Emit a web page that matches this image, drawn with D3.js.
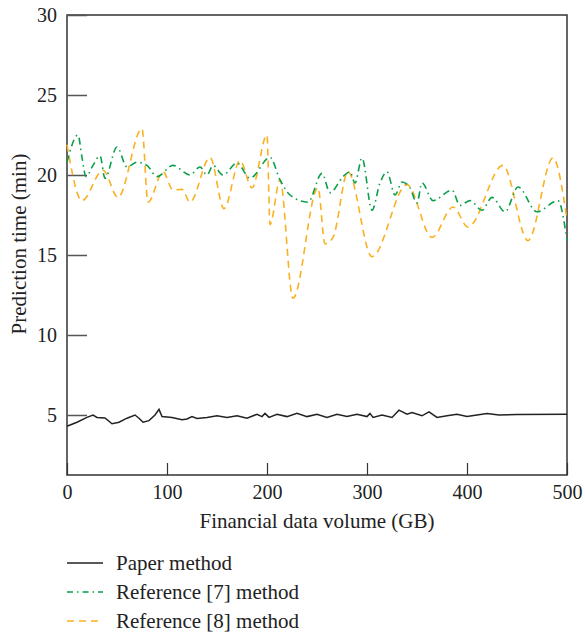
<!DOCTYPE html>
<html>
<head>
<meta charset="utf-8">
<script src="https://cdn.jsdelivr.net/npm/d3@7"></script>
<style>
  body { margin: 0; background: #fff; }
  svg text { font-family: "Liberation Serif", "Times New Roman", serif !important; fill: #222; }
</style>
</head>
<body>
<div id="chart"></div>
<script>
// Data (GB, minutes)
const paperX = [0, 10, 20, 26, 30, 38, 45, 52, 60, 68, 72, 76, 82, 88, 92, 95, 105, 115, 120, 125, 130, 140, 150, 160, 170, 180, 190, 195, 198, 202, 210, 220, 230, 240, 250, 260, 270, 280, 290, 300, 303, 306, 315, 325, 332, 340, 345, 355, 362, 370, 380, 390, 400, 410, 420, 432, 450, 500];
const paperY = [4.3, 4.55, 4.85, 5.0, 4.85, 4.82, 4.45, 4.55, 4.8, 5.0, 4.8, 4.55, 4.65, 5.0, 5.35, 4.9, 4.85, 4.7, 4.75, 4.9, 4.78, 4.85, 4.95, 4.85, 4.95, 4.8, 5.05, 4.9, 5.1, 4.85, 5.05, 4.9, 5.1, 4.9, 5.05, 4.85, 5.05, 4.9, 5.05, 4.9, 5.1, 4.85, 5.0, 4.85, 5.3, 5.05, 5.15, 4.95, 5.2, 4.85, 4.95, 5.05, 4.9, 5.0, 5.1, 5.0, 5.03, 5.05];

const ref7X = [0, 11, 15, 19, 26, 33, 38, 50, 60, 70, 80, 90, 106, 123, 133, 140, 146, 156, 170, 183, 203, 213, 223, 241, 255, 263, 276, 283, 288, 295, 305, 313, 320, 328, 335, 343, 350, 355, 366, 385, 393, 403, 415, 425, 438, 451, 470, 491, 500];
const ref7Y = [20.8, 22.5, 21.1, 19.9, 20.6, 21.2, 19.8, 21.75, 20.5, 20.8, 20.6, 19.9, 20.6, 20.0, 20.5, 20.0, 20.6, 20.0, 20.75, 19.8, 21.1, 19.7, 18.75, 18.3, 20.1, 18.9, 19.9, 20.2, 19.5, 21.06, 17.8, 19.5, 20.2, 18.75, 19.56, 19.2, 18.25, 19.5, 18.4, 19.06, 18.1, 18.4, 17.8, 18.6, 17.7, 19.25, 17.7, 18.4, 15.9];

const ref8X = [0, 15, 36, 51, 75, 81, 96, 106, 115, 123, 143, 157, 173, 185, 200, 203, 213, 226, 251, 258, 266, 281, 305, 340, 365, 386, 401, 436, 461, 486, 500];
const ref8Y = [21.9, 18.4, 20.3, 18.6, 22.9, 18.3, 20.2, 19.06, 19.1, 18.3, 21.1, 17.9, 20.9, 19.2, 22.5, 16.9, 19.7, 12.3, 19.2, 15.7, 16.1, 20.2, 14.9, 19.4, 16.1, 18.0, 16.75, 20.6, 15.9, 21.06, 17.2];

const xTicks = [0, 100, 200, 300, 400, 500];
const yTicks = [5, 10, 15, 20, 25, 30];
const seriesNames = ["Paper method", "Reference [7] method", "Reference [8] method"];
const seriesColors = ["#222222", "#0a9f4a", "#f9b122"];

const W = 585, H = 635;
const margin = { left: 67, top: 15 };
const iw = 500, ih = 460;

const svg = d3.select("#chart").append("svg")
  .attr("width", W).attr("height", H);

const g = svg.append("g").attr("transform", `translate(${margin.left},${margin.top})`);

const x = d3.scaleLinear().domain([0, 500]).range([0, iw]);
const y = d3.scaleLinear().domain([1.25, 30]).range([ih, 0]);

// frame
g.append("rect").attr("width", iw).attr("height", ih)
  .attr("fill", "none").attr("stroke", "#333").attr("stroke-width", 1.5);

// ticks point inward
const yAxis = g.append("g").call(d3.axisLeft(y).tickValues(yTicks).tickSize(-20).tickPadding(10));
yAxis.select(".domain").remove();
yAxis.selectAll(".tick line").attr("stroke", "#555").attr("stroke-width", 1.5);
yAxis.selectAll(".tick text").attr("font-size", 20).attr("fill", "#222");

const xAxis = g.append("g").attr("transform", `translate(0,${ih})`)
  .call(d3.axisBottom(x).tickValues(xTicks).tickSize(-12).tickPadding(10));
xAxis.select(".domain").remove();
xAxis.selectAll(".tick line").attr("stroke", "#333").attr("stroke-width", 1.2);
xAxis.selectAll(".tick text").attr("font-size", 20).attr("fill", "#222");

// axis titles
svg.append("text").attr("x", margin.left + iw / 2).attr("y", 528)
  .attr("text-anchor", "middle").attr("font-size", 21).text("Financial data volume (GB)");
svg.append("text").attr("transform", `translate(26,${margin.top + 229}) rotate(-90)`)
  .attr("text-anchor", "middle").attr("font-size", 21).text("Prediction time (min)");

const smooth = d3.line().x(d => x(d[0])).y(d => y(d[1])).curve(d3.curveMonotoneX);
const straight = d3.line().x(d => x(d[0])).y(d => y(d[1]));

const paper = d3.zip(paperX, paperY);
const ref7 = d3.zip(ref7X, ref7Y);
const ref8 = d3.zip(ref8X, ref8Y);

g.append("path").datum(ref8).attr("d", smooth)
  .attr("fill", "none").attr("stroke", seriesColors[2]).attr("stroke-width", 1.6)
  .attr("stroke-dasharray", "7,5");
g.append("path").datum(ref7).attr("d", smooth)
  .attr("fill", "none").attr("stroke", seriesColors[1]).attr("stroke-width", 1.6)
  .attr("stroke-dasharray", "7,4,1.5,4");
g.append("path").datum(paper).attr("d", straight)
  .attr("fill", "none").attr("stroke", seriesColors[0]).attr("stroke-width", 1.5);

// legend
const dashes = [null, "6,4,1.5,4", "7,5"];
const legend = svg.append("g").attr("transform", "translate(67,563)");
seriesNames.forEach((name, i) => {
  const row = legend.append("g").attr("transform", `translate(0,${i * 29})`);
  row.append("line").attr("x1", 0).attr("x2", 36)
    .attr("stroke", seriesColors[i]).attr("stroke-width", 1.5)
    .attr("stroke-dasharray", dashes[i]);
  row.append("text").attr("x", 49).attr("y", 7).attr("font-size", 21).text(name);
});
</script>
</body>
</html>
